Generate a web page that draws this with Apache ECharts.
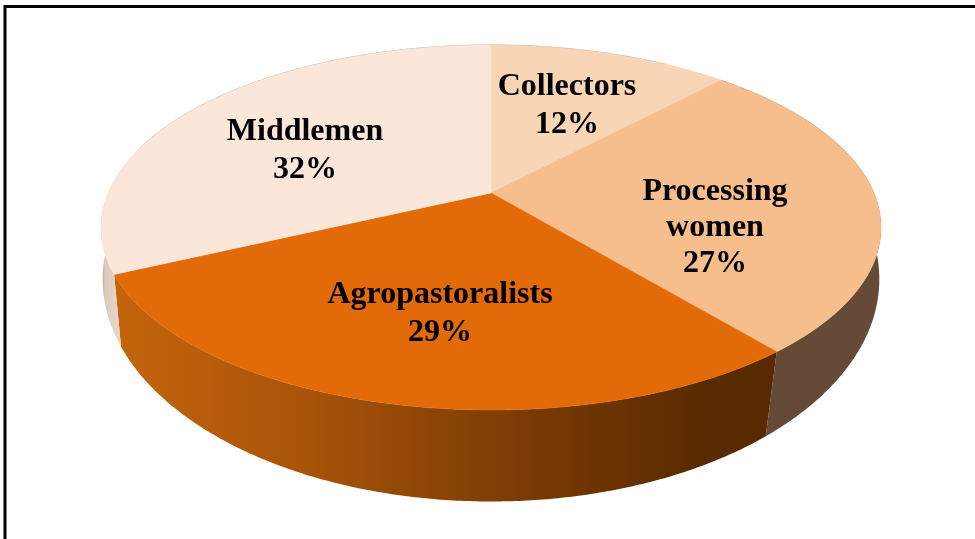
<!DOCTYPE html>
<html>
<head>
<meta charset="utf-8">
<style>html,body{margin:0;padding:0;background:#fff}#c{width:975px;height:539px}</style>
<script src="https://cdn.jsdelivr.net/npm/echarts@6/dist/echarts.min.js"></script>
</head>
<body>
<div id="c"></div>
<script>
const categories = ['Collectors', 'Processing\nwomen', 'Agropastoralists', 'Middlemen'];
const shares = [12, 27, 29, 32];

const topColors = ['#f7d5b5', '#f6bd8d', '#e26a08', '#fae7d9'];
const labelCenters = [[567, 106], [715, 228], [440, 314], [305, 151]];

// perspective projection of the pie's two circular rims
const TOP = { cx: 491, cy: 193, a: 383, b: 176, k: -0.189 };
const BOTTOM = { cx: 491, cy: 248, a: 384.5, b: 218, k: -0.14 };
function project(rim, deg) {
  const t = deg * Math.PI / 180, u = Math.sin(t), v = -Math.cos(t), w = 1 + rim.k * v;
  return [rim.cx + rim.a * u / w, rim.cy + rim.b * v / w];
}
function arc(rim, a0, a1) {
  const out = [], n = Math.max(4, Math.ceil(Math.abs(a1 - a0) * 2));
  for (let i = 0; i <= n; i++) out.push(project(rim, a0 + (a1 - a0) * i / n));
  return out;
}
const total = shares.reduce((s, v) => s + v, 0);
function startAngle(idx) {
  let c = 0;
  for (let i = 0; i < idx; i++) c += shares[i];
  return c / total * 360;
}
function hGrad(x0, x1, stops) {
  return new echarts.graphic.LinearGradient(x0, 0, x1, 0,
    stops.map(s => ({ offset: s[0], color: s[1] })), true);
}
function sideFill(idx) {
  if (idx === 1) return '#654b37';
  if (idx === 2) return hGrad(117, 776, [[0, '#c4650b'], [0.28, '#a9540a'], [0.57, '#803e04'], [0.88, '#5a2b00'], [1, '#582a00']]);
  if (idx === 3) return hGrad(102, 128, [[0, '#b3a79c'], [0.12, '#dccbbd'], [1, '#ecdccf']]);
  return '#f7d5b5';
}

const chart = echarts.init(document.getElementById('c'), null, { renderer: 'canvas' });
chart.setOption({
  backgroundColor: '#ffffff',
  animation: false,
  graphic: [
    { type: 'line', shape: { x1: 5, y1: 6.5, x2: 975, y2: 6.5 }, style: { stroke: '#000', lineWidth: 3 }, silent: true },
    { type: 'line', shape: { x1: 5, y1: 5, x2: 5, y2: 539 }, style: { stroke: '#000', lineWidth: 3 }, silent: true }
  ],
  series: [{
    type: 'custom',
    coordinateSystem: 'none',
    silent: true,
    data: shares.map((v, i) => ({ name: categories[i], value: [v, i] })),
    renderItem(params, api) {
      const idx = api.value(1);
      const a0 = startAngle(idx), a1 = a0 + api.value(0) / total * 360;
      const children = [];
      // rim band
      const pts = arc(TOP, a0, a1).concat(arc(BOTTOM, a0, a1).reverse());
      children.push({
        type: 'polygon', z2: 1,
        shape: { points: pts },
        style: { fill: sideFill(idx), stroke: null }
      });
      // thin shaded edge on the far rim
      if (idx === 0 || idx === 3) {
        children.push({
          type: 'polyline', z2: 2,
          shape: { points: arc(TOP, idx === 0 ? a0 : 285, idx === 0 ? a0 + 32 : a1) },
          style: { fill: null, stroke: '#b5aea8', lineWidth: 1 }
        });
      }
      // top face
      const topPts = [[TOP.cx, TOP.cy]].concat(arc(TOP, a0, a1));
      children.push({
        type: 'polygon', z2: 3,
        shape: { points: topPts },
        style: { fill: topColors[idx], stroke: topColors[idx], lineWidth: 0.5 }
      });
      // label
      children.push({
        type: 'text', z2: 5,
        x: labelCenters[idx][0], y: labelCenters[idx][1],
        style: {
          text: categories[idx] + '\n' + api.value(0) + '%',
          fill: '#000',
          font: 'bold 32px "Liberation Serif", serif',
          lineHeight: idx === 1 ? 36 : 38,
          align: 'center',
          verticalAlign: 'middle'
        }
      });
      return { type: 'group', children };
    }
  }]
});
</script>
</body>
</html>
